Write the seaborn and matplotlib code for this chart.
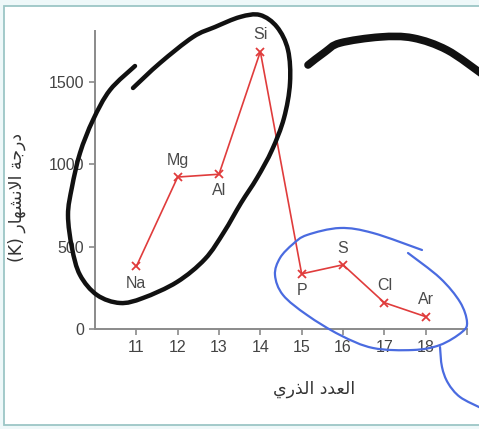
import numpy as np
import pandas as pd
import seaborn as sns
import matplotlib
matplotlib.use('Agg')
import matplotlib.pyplot as plt
from matplotlib.path import Path
from matplotlib.patches import PathPatch, Rectangle
from matplotlib.transforms import IdentityTransform

# period 3 melting points
elements = ['Na', 'Mg', 'Al', 'Si', 'P', 'S', 'Cl', 'Ar']
atomic_no = [11, 12, 13, 14, 15, 16, 17, 18]
melting_k = [380, 923, 940, 1685, 335, 390, 160, 75]

x_ticks = [11, 12, 13, 14, 15, 16, 17, 18, 19]
x_tick_labels = ['11', '12', '13', '14', '15', '16', '17', '18', '']
y_ticks = [0, 500, 1000, 1500]

# arabic labels, pre-shaped (presentation forms, visual order)
x_title = '\uFEF1\uFEAD\uFEAC\uFEDF\uFE8D \uFEA9\uFEAA\uFECC\uFEDF\uFE8D'      # العدد الذري
y_title = '(K) \uFEAD\uFE8E\uFEEC\uFEB8\uFEE7\uFEFB\uFE8D \uFE94\uFE9F\uFEAD\uFEA9'  # درجة الانصهار (K)

df = pd.DataFrame({'Z': atomic_no, 'mp': melting_k, 'el': elements})

sns.set_style('ticks')
plt.rcParams['font.family'] = ['Liberation Sans', 'DejaVu Sans']

W, H = 479, 429
fig = plt.figure(figsize=(W / 100, H / 100), dpi=100, facecolor='#eef8f9')
fig.add_artist(Rectangle((4, 4), 500, H - 10, transform=IdentityTransform(),
                         facecolor='white', edgecolor='#9cc6c6', lw=1.3, zorder=-5))

ax = fig.add_axes([95 / W, 100 / H, 372 / W, 298 / H])
ax.set_facecolor('none')

sns.lineplot(data=df, x='Z', y='mp', ax=ax, color='#e03c3c', lw=1.2,
             marker='x', markersize=6, markeredgewidth=1.3, markeredgecolor='#e03c3c')

# label above (+1) or below (-1) the point
label_side = [-1, 1, -1, 1, -1, 1, 1, 1]
for z, mp, el, s in zip(atomic_no, melting_k, elements, label_side):
    ax.annotate(el, (z, mp), xytext=(0, 12 * s), textcoords='offset points',
                ha='center', va='center', fontsize=11.5, color='#4a4a4a')

ax.set_xlim(10, 19)
ax.set_ylim(0, 1810)
ax.set_xticks(x_ticks)
ax.set_xticklabels(x_tick_labels)
ax.set_yticks(y_ticks)
sns.despine(ax=ax)
for sp in ['left', 'bottom']:
    ax.spines[sp].set_color('#8a8a8a')
    ax.spines[sp].set_linewidth(1.4)
ax.tick_params(direction='out', length=4, width=1.2, color='#8a8a8a',
               labelcolor='#444444', labelsize=11.5, pad=4)

ax.set_xlabel(x_title, fontsize=12.5, color='#333333', family='DejaVu Sans')
ax.set_ylabel(y_title, fontsize=12.5, color='#333333', family='DejaVu Sans')
ax.xaxis.set_label_coords(0.59, -0.17)
ax.yaxis.set_label_coords(-0.185, 0.44)


# hand drawn marks over the chart (image pixel coords)
def stroke(points, color, lw):
    p = np.array([(x, H - y) for x, y in points], dtype=float)
    ext = np.vstack([p[0], p, p[-1]])
    verts = [p[0]]
    codes = [Path.MOVETO]
    for i in range(1, len(ext) - 2):
        c1 = ext[i] + (ext[i + 1] - ext[i - 1]) / 6
        c2 = ext[i + 1] - (ext[i + 2] - ext[i]) / 6
        verts += [c1, c2, ext[i + 1]]
        codes += [Path.CURVE4] * 3
    fig.add_artist(PathPatch(Path(verts, codes), transform=IdentityTransform(),
                             fill=False, edgecolor=color, lw=lw,
                             capstyle='round', joinstyle='round', zorder=5))


black_loop = [(135, 66), (110, 90), (93, 120), (80, 153), (72, 187), (68, 215),
              (72, 248), (80, 275), (97, 295), (120, 303), (143, 298), (177, 282),
              (205, 259), (224, 232), (241, 203), (257, 178), (272, 150), (284, 118),
              (290, 83), (288, 50), (277, 27), (260, 15), (240, 17), (215, 27),
              (193, 37), (160, 63), (133, 88)]
black_arc = [(308, 65), (325, 52), (340, 43), (380, 37), (413, 38), (447, 50), (482, 74)]
blue_loop = [(408, 253), (440, 278), (460, 302), (467, 322), (462, 332), (440, 345),
             (413, 350), (373, 348), (340, 335), (307, 315), (283, 295), (275, 275),
             (280, 258), (293, 244), (307, 235), (340, 228), (373, 233), (422, 250)]
blue_tail = [(440, 347), (442, 367), (448, 383), (460, 397), (481, 408)]

stroke(black_loop, '#111111', 3.2)
stroke(black_arc, '#111111', 5.5)
stroke(blue_loop, '#4a6be0', 1.6)
stroke(blue_tail, '#4a6be0', 1.6)

fig.savefig('out.png', dpi=100, facecolor=fig.get_facecolor())
